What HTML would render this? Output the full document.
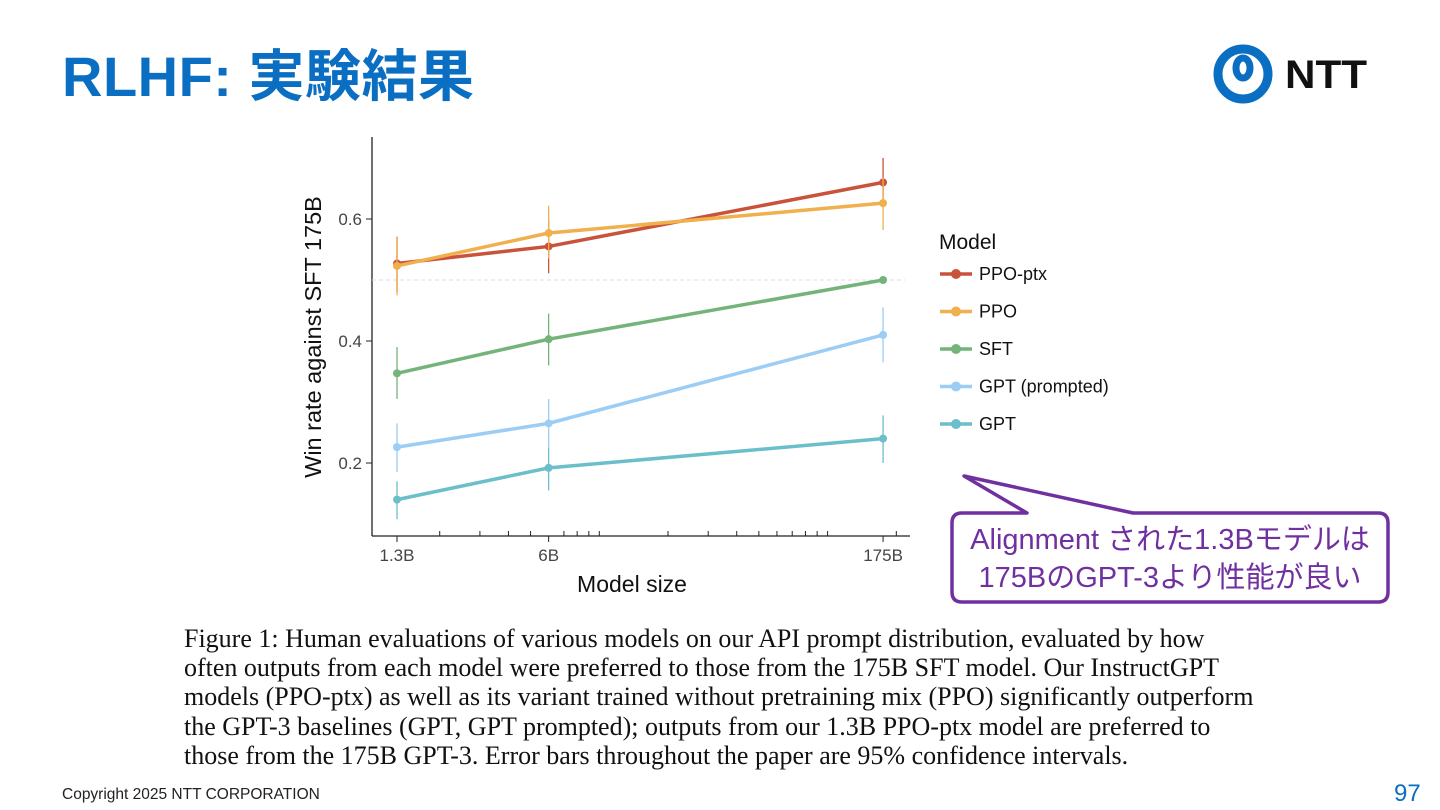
<!DOCTYPE html>
<html><head><meta charset="utf-8"><style>
body{margin:0;width:1440px;height:810px;background:#fff;overflow:hidden;position:relative;font-family:"Liberation Sans","Noto Sans CJK JP",sans-serif}
.abs{position:absolute}
</style></head><body>
<div class="abs" style="left:62px;top:32px;font-size:56px;font-weight:bold;color:#0a6fc2;font-family:'Liberation Sans','Noto Sans CJK JP',sans-serif;letter-spacing:0.5px">RLHF: 実験結果</div>
<svg class="abs" style="left:1210px;top:42px" width="170" height="64">
 <circle cx="33" cy="32" r="25" fill="none" stroke="#0a6fc2" stroke-width="9"/>
 <ellipse cx="33" cy="26" rx="7" ry="10" fill="none" stroke="#0a6fc2" stroke-width="7"/>
 <text x="75" y="46" font-family="Liberation Sans" font-weight="bold" font-size="40" fill="#111" textLength="82" lengthAdjust="spacingAndGlyphs">NTT</text>
</svg>
<svg class="abs" id="chart" style="left:0;top:0" width="1440" height="620"></svg>
<svg class="abs" style="left:0;top:0" width="1440" height="620">
 <path d="M964,476 L1027,513 L962,513 Q952,513 952,523 L952,592 Q952,602 962,602 L1378,602 Q1388,602 1388,592 L1388,523 Q1388,513 1378,513 L1133,513 Z" fill="#fff" stroke="#7030a0" stroke-width="3.5" stroke-linejoin="round"/>
 <text x="1170" y="549" text-anchor="middle" font-size="29" fill="#7030a0" font-family="Liberation Sans,Noto Sans CJK JP,sans-serif">Alignment された1.3Bモデルは</text>
 <text x="1170" y="587" text-anchor="middle" font-size="29" fill="#7030a0" font-family="Liberation Sans,Noto Sans CJK JP,sans-serif">175BのGPT-3より性能が良い</text>
</svg>
<div class="abs" style="left:184px;top:624px;font-family:'Liberation Serif',serif;font-size:26px;line-height:29.2px;color:#111;white-space:nowrap">Figure 1: Human evaluations of various models on our API prompt distribution, evaluated by how<br>often outputs from each model were preferred to those from the 175B SFT model. Our InstructGPT<br>models (PPO-ptx) as well as its variant trained without pretraining mix (PPO) significantly outperform<br>the GPT-3 baselines (GPT, GPT prompted); outputs from our 1.3B PPO-ptx model are preferred to<br>those from the 175B GPT-3. Error bars throughout the paper are 95% confidence intervals.</div>
<div class="abs" style="left:62px;top:786px;font-size:15.5px;color:#222">Copyright 2025 NTT CORPORATION</div>
<div class="abs" style="left:1394px;top:780px;font-size:24px;color:#0a6fc2">97</div>
<script>
const categories=["1.3B","6B","175B"];
const sizes=[1.3,6,175];
const seriesNames=["PPO-ptx","PPO","SFT","GPT (prompted)","GPT"];
const colors=["#c9533a","#f0b04e","#74b47a","#9ccdf5","#6bbfca"];
const ppoPtx=[0.527,0.555,0.66];
const ppo=[0.523,0.577,0.626];
const sft=[0.347,0.403,0.5];
const gptPrompted=[0.226,0.265,0.41];
const gpt=[0.14,0.192,0.24];
const ppoPtxLo=[0.48,0.511,0.62], ppoPtxHi=[0.571,0.6,0.70];
const ppoLo=[0.475,0.535,0.582], ppoHi=[0.57,0.622,0.668];
const sftLo=[0.305,0.36,0.5], sftHi=[0.39,0.445,0.5];
const gptPLo=[0.185,0.225,0.365], gptPHi=[0.265,0.305,0.455];
const gptLo=[0.108,0.155,0.2], gptHi=[0.17,0.225,0.278];
const yTicks=[0.2,0.4,0.6];
const minorTicks=[2,3,4,5,7,8,9,10,20,30,40,50,60,70,80,90,100,200];
const series=[[ppoPtx,ppoPtxLo,ppoPtxHi],[ppo,ppoLo,ppoHi],[sft,sftLo,sftHi],[gptPrompted,gptPLo,gptPHi],[gpt,gptLo,gptHi]];

const svg=document.getElementById('chart');
const NS='http://www.w3.org/2000/svg';
const X=s=>397+(Math.log10(s)-Math.log10(1.3))*228.3;
const Y=v=>463-(v-0.2)*610;
function mk(t,a,p){const e=document.createElementNS(NS,t);for(const k in a)e.setAttribute(k,a[k]);(p||svg).appendChild(e);return e;}
let e;
e=mk('line',{x1:372,y1:137,x2:372,y2:536,stroke:'#222','stroke-width':1.3});


e=mk('line',{x1:372,y1:536,x2:910,y2:536,stroke:'#222','stroke-width':1.3});


e=mk('line',{x1:372,y1:Y(0.5),x2:905,y2:Y(0.5),stroke:'#ddd','stroke-width':1,'stroke-dasharray':'4,3'});


yTicks.forEach(v=>{
 mk('line',{x1:366,y1:Y(v),x2:372,y2:Y(v),stroke:'#222'});
 e=mk('text',{x:362,y:Y(v)+6,'text-anchor':'end','font-size':17,fill:'#444'});e.textContent=v.toFixed(1);
 
 
});
minorTicks.forEach(s=>{mk('line',{x1:X(s),y1:531,x2:X(s),y2:536,stroke:'#222'});});
categories.forEach((c,i)=>{
 mk('line',{x1:X(sizes[i]),y1:536,x2:X(sizes[i]),y2:542,stroke:'#222'});
 e=mk('text',{x:X(sizes[i]),y:561,'text-anchor':'middle','font-size':17,fill:'#444'});e.textContent=c;
 
 
});
e=mk('text',{x:632,y:592,'text-anchor':'middle','font-size':23,fill:'#111'});e.textContent='Model size';


e=mk('text',{x:0,y:0,'text-anchor':'middle','font-size':23.5,fill:'#111',transform:'translate(321,337) rotate(-90)'});e.textContent='Win rate against SFT 175B';


series.forEach((s,k)=>{
 const g=mk('g',{});
 
 
 s[0].forEach((v,i)=>{mk('line',{x1:X(sizes[i]),y1:Y(s[1][i]),x2:X(sizes[i]),y2:Y(s[2][i]),stroke:colors[k],'stroke-width':1.3},g);});
 mk('polyline',{points:s[0].map((v,i)=>X(sizes[i])+','+Y(v)).join(' '),fill:'none',stroke:colors[k],'stroke-width':3.5},g);
 s[0].forEach((v,i)=>{mk('circle',{cx:X(sizes[i]),cy:Y(v),r:4,fill:colors[k]},g);});
});
e=mk('text',{x:939,y:249,'font-size':21,fill:'#111'});e.textContent='Model';


seriesNames.forEach((n,k)=>{
 const y=274+k*37.5;
 const g=mk('g',{});
 
 
 mk('line',{x1:940,y1:y,x2:972,y2:y,stroke:colors[k],'stroke-width':3.5},g);
 mk('circle',{cx:956,cy:y,r:5,fill:colors[k]},g);
 const t=mk('text',{x:979,y:y+6,'font-size':18,fill:'#111'},g);t.textContent=n;
});
</script>
</body></html>
